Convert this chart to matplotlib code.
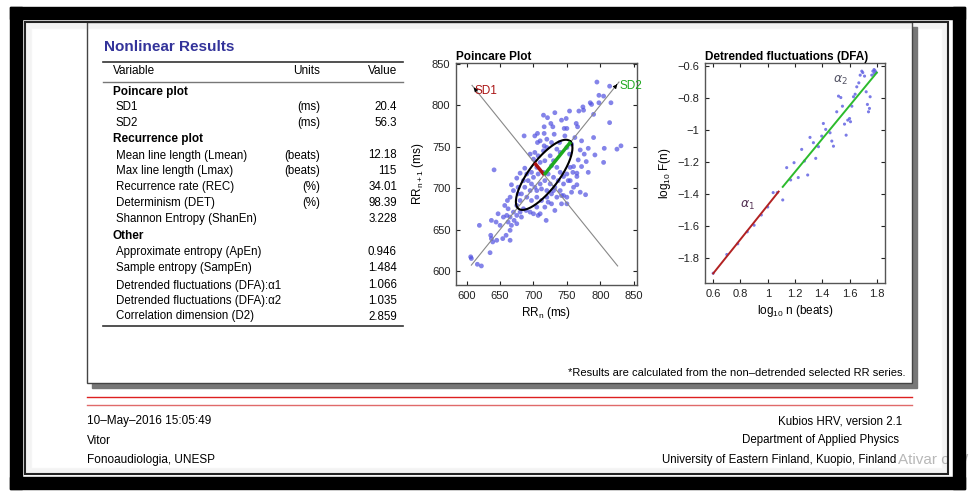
import numpy as np
import matplotlib
matplotlib.use("Agg")
import matplotlib.pyplot as plt
from matplotlib.patches import Rectangle
from matplotlib.ticker import FuncFormatter

W, H = 969, 491
NARROW = ['Liberation Sans Narrow', 'Liberation Sans', 'DejaVu Sans']
plt.rcParams['font.family'] = NARROW

# ---- table data ----
ROW_LABELS = ['Poincare plot', 'SD1', 'SD2',
              'Recurrence plot', 'Mean line length (Lmean)', 'Max line length (Lmax)',
              'Recurrence rate (REC)', 'Determinism (DET)', 'Shannon Entropy (ShanEn)',
              'Other', 'Approximate entropy (ApEn)', 'Sample entropy (SampEn)',
              'Detrended fluctuations (DFA):α1', 'Detrended fluctuations (DFA):α2',
              'Correlation dimension (D2)']
ROW_UNITS = ['', '(ms)', '(ms)', '', '(beats)', '(beats)', '(%)', '(%)', '',
             '', '', '', '', '', '']
ROW_VALUES = ['', '20.4', '56.3', '', '12.18', '115', '34.01', '98.39', '3.228',
              '', '0.946', '1.484', '1.066', '1.035', '2.859']
SECTION_ROWS = ['Poincare plot', 'Recurrence plot', 'Other']

# ---- Poincare data ----
SD1, SD2 = 20.4, 56.3
RR_MEAN = 716
RR_N = [795, 814, 798, 805, 798, 816, 785, 787, 774, 775, 754, 768, 790, 814, 732, 742,
        749, 715, 721, 726, 729, 746, 750, 764, 766, 716, 716, 706, 686, 731, 747, 762,
        790, 720, 706, 716, 727, 739, 772, 782, 806, 825, 831, 770, 776, 792, 805, 779,
        767, 760, 772, 765, 782, 752, 765, 778, 765, 755,
        641, 687, 680, 675, 667, 695, 702, 707, 700, 710, 715, 720, 725, 730, 735, 740,
        745, 750, 737, 730, 722, 715, 707, 700, 692, 687, 695, 702, 710, 717, 725, 732,
        740, 727, 720, 712, 705, 697, 690, 682, 680, 675, 685, 695, 707, 717, 727, 732,
        742, 750, 757, 742, 680, 705, 700, 665, 661, 657, 662, 670, 675, 665, 660, 671,
        675, 667, 662, 655, 647, 644, 650, 637, 636, 637, 639, 645, 654, 659, 665, 665,
        635, 619, 606, 607, 616, 622, 682, 689, 719, 710, 722, 755, 760, 770, 750, 745,
        710, 702, 730, 727, 717, 705, 697, 690, 685, 677, 670, 677, 697, 712, 705, 720,
        735, 745, 759, 754, 740, 735, 750, 757]
RR_N1 = [828, 823, 812, 811, 803, 803, 803, 801, 798, 794, 793, 793, 789, 779, 791, 782,
         784, 788, 785, 778, 774, 772, 772, 778, 774, 774, 766, 766, 763, 765, 763, 761,
         761, 759, 755, 751, 755, 755, 757, 748, 748, 747, 751, 746, 741, 740, 731, 732,
         734, 726, 726, 718, 719, 709, 704, 692, 714, 725,
         722, 724, 718, 712, 704, 741, 743, 739, 735, 731, 745, 749, 739, 733, 725, 719,
         714, 717, 709, 713, 717, 719, 717, 713, 709, 701, 697, 701, 705, 709, 705, 701,
         697, 693, 689, 685, 689, 685, 689, 693, 685, 679, 675, 671, 667, 677, 681, 673,
         681, 689, 695, 691, 671, 677, 669, 689, 685, 679, 675, 671, 667, 665, 667, 661,
         657, 655, 659, 665, 669, 659, 655, 661, 643, 639, 635, 637, 639, 643, 649, 637,
         622, 655, 617, 615, 608, 606, 665, 673, 661, 669, 683, 709, 701, 695, 681, 705,
         757, 763, 697, 727, 733, 725, 719, 717, 709, 701, 697, 693, 705, 699, 697, 697,
         689, 691, 719, 741, 743, 747, 749, 753]
LINE_LO, LINE_HI = 607, 828

# ---- DFA data ----
LOG_N = [0.60, 0.70, 0.78, 0.85, 0.90, 0.953, 1.00, 1.04, 1.07, 1.11, 1.139, 1.168, 1.193,
         1.224, 1.249, 1.269, 1.293, 1.31, 1.335, 1.352, 1.372, 1.396, 1.408, 1.425, 1.457,
         1.47, 1.482, 1.506, 1.519, 1.536, 1.548, 1.563, 1.575, 1.587, 1.60, 1.607, 1.617,
         1.629, 1.641, 1.653, 1.668, 1.678, 1.69, 1.697, 1.71, 1.722, 1.731, 1.739, 1.746,
         1.751, 1.763, 1.771, 1.78, 1.788, 1.795, 1.78]
LOG_F = [-1.894, -1.777, -1.71, -1.635, -1.594, -1.53, -1.48, -1.39, -1.39, -1.436, -1.234,
         -1.311, -1.203, -1.296, -1.12, -1.193, -1.28, -1.045, -1.078, -1.176, -1.103,
         -1.037, -0.958, -0.995, -1.016, -1.068, -1.10, -0.885, -0.787, -0.796, -0.85,
         -0.962, -1.031, -0.937, -0.927, -0.947, -0.85, -0.791, -0.775, -0.729, -0.704,
         -0.656, -0.631, -0.64, -0.662, -0.76, -0.839, -0.885, -0.864, -0.791, -0.656,
         -0.631, -0.621, -0.629, -0.64, -0.646]
ALPHA1, B1, RANGE1 = 1.066, -2.535, (0.60, 1.08)
ALPHA2, B2, RANGE2 = 1.035, -2.503, (1.11, 1.80)

FOOT_LEFT = ['10–May–2016 15:05:49', 'Vitor', 'Fonoaudiologia, UNESP']
FOOT_RIGHT = ['Kubios HRV, version 2.1', 'Department of Applied Physics',
              'University of Eastern Finland, Kuopio, Finland']


def px_rect(l, t, r, b):
    return [l / W, 1 - b / H, (r - l) / W, (b - t) / H]


fig = plt.figure(figsize=(W / 100, H / 100), dpi=100)
bg = fig.add_axes([0, 0, 1, 1])
bg.set_xlim(0, W)
bg.set_ylim(H, 0)
bg.axis('off')

# screenshot frame
for (x, y, w, h) in [(10, 7, 955, 12), (10, 477, 955, 12), (10, 7, 12, 482), (953, 7, 12, 482)]:
    bg.add_patch(Rectangle((x, y), w, h, color='black', zorder=10))
bg.add_patch(Rectangle((25, 22), 923, 452, fill=False, ec='#222222', lw=1.5, zorder=9))
for i in range(6):
    bg.add_patch(Rectangle((26 + i, 23 + i), 921 - 2 * i, 450 - 2 * i, fill=False,
                           ec='#999999', lw=1, alpha=0.08, zorder=8))

# report box with shadow
bg.add_patch(Rectangle((92, 27), 825, 361, color='#777777', zorder=1))
bg.add_patch(Rectangle((87, 22), 825, 361, fc='white', ec='#444444', lw=1, zorder=2))

# table
bg.text(104, 47, 'Nonlinear Results', fontsize=11, fontweight='bold', color='#33339a',
        family=['Liberation Sans', 'DejaVu Sans'], va='center', zorder=3)
bg.plot([103, 403], [62, 62], color='#333333', lw=1.2, zorder=3)
bg.plot([103, 403], [82, 82], color='#777777', lw=1.0, zorder=3)
bg.plot([103, 403], [326, 326], color='#333333', lw=1.2, zorder=3)
bg.text(113, 70.5, 'Variable', fontsize=8.5, va='center', zorder=3)
bg.text(320, 70.5, 'Units', fontsize=8.5, va='center', ha='right', zorder=3)
bg.text(397, 70.5, 'Value', fontsize=8.5, va='center', ha='right', zorder=3)
row_y = [92, 107, 123, 139, 155.5, 171, 187, 203, 219, 235.5, 252, 268, 285.5, 301, 316.5]
for yy, lab, unit, val in zip(row_y, ROW_LABELS, ROW_UNITS, ROW_VALUES):
    if lab in SECTION_ROWS:
        bg.text(113, yy, lab, fontsize=8.5, fontweight='bold', va='center', zorder=3)
    else:
        bg.text(116, yy, lab, fontsize=8.3, va='center', zorder=3)
    bg.text(320, yy, unit, fontsize=8.3, va='center', ha='right', zorder=3)
    bg.text(397, yy, val, fontsize=8.3, va='center', ha='right', zorder=3)

# footnote and footer
bg.text(906, 373, '*Results are calculated from the non–detrended selected RR series.',
        fontsize=8, ha='right', va='center', zorder=3)
bg.plot([87, 912], [397, 397], color='#dd2020', lw=1.0)
bg.plot([87, 912], [405, 405], color='#e06a6a', lw=1.0)
for yy, l, r in zip([421, 440.5, 460], FOOT_LEFT, FOOT_RIGHT):
    bg.text(87, yy, l, fontsize=8.5, va='center')
    bg.text(902 - (yy - 421) * 0.15, yy, r, fontsize=8.3, va='center', ha='right')
bg.text(898, 460, 'Ativar o W', fontsize=11, color='#b8b8b8', va='center',
        family=['Liberation Sans', 'DejaVu Sans'], zorder=4)


def style_axes(ax):
    ax.tick_params(direction='in', top=True, right=True, length=3, labelsize=8,
                   colors='#222222', pad=4)
    for sp in ax.spines.values():
        sp.set_color('#555555')
        sp.set_linewidth(1.0)


# ---- Poincare plot ----
ax1 = fig.add_axes(px_rect(456, 63, 637, 285))
style_axes(ax1)
ax1.scatter(RR_N, RR_N1, s=12, color='#5050e0', alpha=0.7, edgecolors='none', zorder=2)
ax1.plot([LINE_LO, LINE_HI], [LINE_LO, LINE_HI], color='#888888', lw=0.8, zorder=3)
ax1.plot([LINE_LO + 1, LINE_HI - 2], [2 * RR_MEAN - LINE_LO - 1, 2 * RR_MEAN - LINE_HI + 2],
         color='#888888', lw=0.8, zorder=3)
ax1.annotate('', xy=(LINE_HI, LINE_HI), xytext=(LINE_HI - 6, LINE_HI - 6),
             arrowprops=dict(arrowstyle='-|>', color='black', lw=0.6, mutation_scale=6))
ax1.annotate('', xy=(LINE_LO + 1, 2 * RR_MEAN - LINE_LO - 1),
             xytext=(LINE_LO + 7, 2 * RR_MEAN - LINE_LO - 7),
             arrowprops=dict(arrowstyle='-|>', color='black', lw=0.6, mutation_scale=6))
t = np.linspace(0, 2 * np.pi, 300)
u = np.array([1, 1]) / np.sqrt(2)
v = np.array([-1, 1]) / np.sqrt(2)
ex = RR_MEAN + SD2 * np.cos(t) * u[0] + SD1 * np.sin(t) * v[0]
ey = RR_MEAN + SD2 * np.cos(t) * u[1] + SD1 * np.sin(t) * v[1]
ax1.plot(ex, ey, color='black', lw=1.5, zorder=4)
ax1.plot([RR_MEAN, RR_MEAN + SD1 * v[0]], [RR_MEAN, RR_MEAN + SD1 * v[1]],
         color='#aa1111', lw=2.5, zorder=5, solid_capstyle='butt')
ax1.plot([RR_MEAN, RR_MEAN + SD2 * u[0]], [RR_MEAN, RR_MEAN + SD2 * u[1]],
         color='#1eaa1e', lw=2.5, zorder=5, solid_capstyle='butt')
ax1.text(LINE_LO + 5, 2 * RR_MEAN - LINE_LO - 8, 'SD1', color='#aa1515', fontsize=8.5,
         va='center')
ax1.text(LINE_HI + 1, LINE_HI - 5, 'SD2', color='#22aa22', fontsize=8.5, va='center')
ax1.set_xlim(584, 855)
ax1.set_ylim(583, 851)
ax1.set_xticks([600, 650, 700, 750, 800, 850])
ax1.set_yticks([600, 650, 700, 750, 800, 850])
ax1.set_title('Poincare Plot', fontsize=8.5, fontweight='bold', loc='left', pad=2)
ax1.set_xlabel('RR$_\\mathregular{n}$ (ms)', fontsize=8.5, labelpad=3)
ax1.set_ylabel('RR$_\\mathregular{n+1}$ (ms)', fontsize=8.5, labelpad=4)

# ---- DFA plot ----
ax2 = fig.add_axes(px_rect(705, 63, 885, 283))
style_axes(ax2)
ax2.scatter(LOG_N, LOG_F, s=5, color='#5a5ae0', alpha=0.8, edgecolors='none', zorder=2)
x1 = np.array(RANGE1)
x2 = np.array(RANGE2)
ax2.plot(x1, ALPHA1 * x1 + B1, color='#b22222', lw=1.4, zorder=3)
ax2.plot(x2, ALPHA2 * x2 + B2, color='#2cbb2c', lw=1.4, zorder=3)
ax2.text(0.85, -1.47, '$\\alpha_1$', color='#553355', fontsize=9, ha='center', va='center')
ax2.text(1.53, -0.69, '$\\alpha_2$', color='#555566', fontsize=9, ha='center', va='center')
ax2.set_xlim(0.54, 1.86)
ax2.set_ylim(-1.955, -0.58)
ax2.set_xticks([0.6, 0.8, 1.0, 1.2, 1.4, 1.6, 1.8])
ax2.set_yticks([-1.8, -1.6, -1.4, -1.2, -1.0, -0.8, -0.6])
fmt = FuncFormatter(lambda val, pos: ('%g' % round(val, 2)).replace('-', '−'))
ax2.xaxis.set_major_formatter(fmt)
ax2.yaxis.set_major_formatter(fmt)
ax2.set_title('Detrended fluctuations (DFA)', fontsize=8.5, fontweight='bold', loc='left',
              pad=2)
ax2.set_xlabel('log$_\\mathregular{10}$ n (beats)', fontsize=8.5, labelpad=3)
ax2.set_ylabel('log$_\\mathregular{10}$ F(n)', fontsize=8.5, labelpad=3)

fig.savefig('out.png', dpi=100)
